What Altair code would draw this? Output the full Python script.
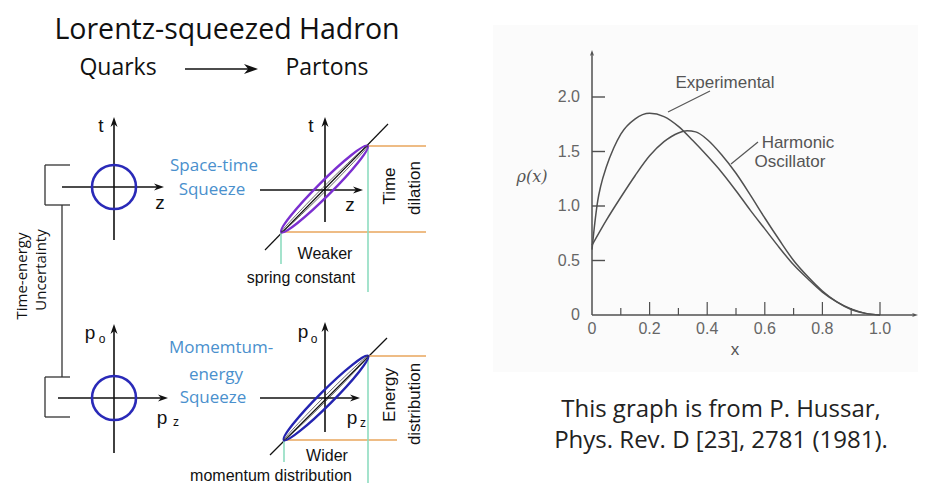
import altair as alt
import pandas as pd

# ---------------- data: right panel ----------------
exp_x = [0, 0.01, 0.02, 0.03, 0.05, 0.075, 0.1, 0.15, 0.2, 0.25, 0.3, 0.35, 0.4,
         0.45, 0.5, 0.55, 0.6, 0.65, 0.7, 0.75, 0.8, 0.85, 0.9, 0.95, 1.0]
exp_y = [0.60, 0.85, 1.05, 1.18, 1.36, 1.53, 1.66, 1.80, 1.85, 1.82, 1.73, 1.60, 1.46,
         1.31, 1.14, 0.96, 0.79, 0.62, 0.46, 0.33, 0.21, 0.12, 0.055, 0.015, 0.0]
ho_x = [0, 0.05, 0.1, 0.15, 0.2, 0.25, 0.3, 0.33, 0.36, 0.4, 0.45, 0.5, 0.55,
        0.6, 0.65, 0.7, 0.75, 0.8, 0.85, 0.9, 0.95, 1.0]
ho_y = [0.64, 0.87, 1.08, 1.28, 1.46, 1.59, 1.67, 1.69, 1.68, 1.61, 1.47, 1.30, 1.10,
        0.89, 0.69, 0.50, 0.35, 0.22, 0.12, 0.05, 0.015, 0.0]
xtick_major = [0.2, 0.4, 0.6, 0.8, 1.0]
xtick_minor = [0.1, 0.3, 0.5, 0.7, 0.9]
xtick_labels = ["0", "0.2", "0.4", "0.6", "0.8", "1.0"]
xtick_label_vals = [0, 0.2, 0.4, 0.6, 0.8, 1.0]
ytick_vals = [0.5, 1.0, 1.5, 2.0]
ytick_labels = ["0", "0.5", "1.0", "1.5", "2.0"]
ytick_label_vals = [0, 0.5, 1.0, 1.5, 2.0]

# ---------------- data: left diagram (page coordinates) ----------------
seg_x1 = [185, 62, 114, 58, 114, 260, 325, 260, 325,
          45, 45, 45, 62, 45, 45, 45,
          265, 270,
          368, 283, 368, 284,
          368, 281, 284, 368,
          710, 758]
seg_y1 = [69, 187, 240, 398, 453, 190, 222, 398, 432,
          165, 165, 205, 205, 377, 377, 417,
          250, 455,
          146, 232, 356, 440,
          146, 232, 440, 356,
          91, 142]
seg_x2 = [252, 160, 114, 164, 114, 359, 325, 356, 325,
          70, 45, 70, 62, 70, 45, 70,
          388, 387,
          426, 426, 426, 397,
          368, 281, 284, 368,
          668, 731]
seg_y2 = [69, 187, 121, 398, 328, 190, 121, 398, 326,
          165, 205, 205, 377, 377, 417, 417,
          124, 338,
          146, 232, 356, 440,
          292, 264, 462, 491,
          112, 164]
seg_style = (["axis"] * 9 + ["bracket"] * 7 + ["diag"] * 2 + ["orange"] * 4
             + ["green"] * 4 + ["leader"] * 2)

arrow_x = [251, 159, 114, 163, 114, 358, 325, 355, 325]
arrow_y = [69, 187, 122, 398, 329, 190, 122, 398, 327]
arrow_angle = [0, 0, 270, 0, 270, 0, 270, 0, 270]
arrow_size = [196, 100, 100, 100, 100, 100, 100, 100, 100]

circle_x = [114, 114]
circle_y = [187, 398]

ellipse_x = [324.5, 326]
ellipse_y = [189, 398]
ellipse_len = [122, 119]
ellipse_color = ["#7b2fd0", "#2424b0"]

STYLE = {
    "axis": ("#111111", 1.6),
    "bracket": ("#333333", 1.3),
    "diag": ("#111111", 1.2),
    "orange": ("#e9a65c", 1.6),
    "green": ("#8edcc0", 1.6),
    "leader": ("#555555", 1.2),
}

PX_X = alt.Scale(domain=[8, 918], range=[0, 910], nice=False, zero=False)
PX_Y = alt.Scale(domain=[8, 483], range=[0, 475], nice=False, zero=False)
PLOT_X = alt.Scale(domain=[0, 1], range=[584, 872], nice=False, zero=False)
PLOT_Y = alt.Scale(domain=[0, 2], range=[307, 89], nice=False, zero=False)


def ellipse_path(b):
    k = 0.5523
    kb = round(k * b, 4)
    return (f"M1,0 C1,{kb} {k},{b} 0,{b} C{-k},{b} -1,{kb} -1,0 "
            f"C-1,{-kb} {-k},{-b} 0,{-b} C{k},{-b} 1,{-kb} 1,0 Z")


ARROW = "M1,0 L-1,-0.7 L-0.4,0 L-1,0.7 Z"

layers = []

bg = pd.DataFrame({"x": [493], "x2": [918], "y": [25], "y2": [372]})
layers.append(alt.Chart(bg).mark_rect(fill="#fbfbfb").encode(
    x=alt.X("x:Q", scale=PX_X, axis=None), x2="x2:Q",
    y=alt.Y("y:Q", scale=PX_Y, axis=None), y2="y2:Q"))

segs = pd.DataFrame({"x": seg_x1, "y": seg_y1, "x2": seg_x2, "y2": seg_y2, "s": seg_style})
for s, (col, w) in STYLE.items():
    layers.append(alt.Chart(segs[segs.s == s]).mark_rule(color=col, strokeWidth=w).encode(
        x=alt.X("x:Q", scale=PX_X, axis=None), x2="x2:Q",
        y=alt.Y("y:Q", scale=PX_Y, axis=None), y2="y2:Q"))

arrows = pd.DataFrame({"x": arrow_x, "y": arrow_y, "a": arrow_angle, "s": arrow_size})
layers.append(alt.Chart(arrows).mark_point(shape=ARROW, filled=True, color="#111111", opacity=1).encode(
    x=alt.X("x:Q", scale=PX_X, axis=None), y=alt.Y("y:Q", scale=PX_Y, axis=None),
    angle=alt.Angle("a:Q", scale=None), size=alt.Size("s:Q", scale=None, legend=None)))

circ = pd.DataFrame({"x": circle_x, "y": circle_y})
layers.append(alt.Chart(circ).mark_point(shape="circle", size=1936, filled=False,
                                         color="#2a2ab8", strokeWidth=2.6, opacity=1).encode(
    x=alt.X("x:Q", scale=PX_X, axis=None), y=alt.Y("y:Q", scale=PX_Y, axis=None)))

ell = pd.DataFrame({"x": ellipse_x, "y": ellipse_y, "L": ellipse_len, "c": ellipse_color})
ell["s"] = ell["L"] ** 2
layers.append(alt.Chart(ell).mark_point(shape=ellipse_path(0.115), filled=False, angle=315,
                                        strokeWidth=2.4, opacity=1).encode(
    x=alt.X("x:Q", scale=PX_X, axis=None), y=alt.Y("y:Q", scale=PX_Y, axis=None),
    size=alt.Size("s:Q", scale=None, legend=None), color=alt.Color("c:N", scale=None)))
layers.append(alt.Chart(ell).mark_point(shape=ellipse_path(0.035), filled=False, angle=315,
                                        strokeWidth=0.7, color="#333333", opacity=1).encode(
    x=alt.X("x:Q", scale=PX_X, axis=None), y=alt.Y("y:Q", scale=PX_Y, axis=None),
    size=alt.Size("s:Q", scale=None, legend=None)))


def text_layer(labels, xs, ys, font, size, color, angle=0, baseline="middle", align="center",
               style="normal"):
    df = pd.DataFrame({"t": labels, "x": xs, "y": ys})
    return alt.Chart(df).mark_text(font=font, fontSize=size, color=color, angle=angle,
                                   baseline=baseline, align=align, fontStyle=style).encode(
        x=alt.X("x:Q", scale=PX_X, axis=None), y=alt.Y("y:Q", scale=PX_Y, axis=None),
        text="t:N")


layers.append(text_layer(["Lorentz-squeezed Hadron"], [227], [30], "Open Sans", 28.5, "#111111"))
layers.append(text_layer(["Quarks", "Partons"], [118, 327], [75, 75], "Open Sans", 23, "#111111",
                         baseline="alphabetic"))
layers.append(text_layer(["Space-time", "Squeeze", "Momemtum-", "energy", "Squeeze"],
                         [214, 212, 221, 216, 213], [166, 190, 348, 375, 398],
                         "Open Sans", 17, "#4a90cd"))
layers.append(text_layer(["Weaker", "spring constant", "Wider", "momentum distribution"],
                         [325, 301, 327, 271], [254, 278, 456, 476],
                         "Liberation Sans", 16, "#111111"))
layers.append(text_layer(["t", "z", "t", "z", "p", "p", "p", "p"],
                         [101, 160, 311, 350, 90, 303, 162, 352],
                         [126, 203, 126, 205, 333, 332, 418, 418],
                         "Liberation Sans", 19, "#111111"))
layers.append(text_layer(["o", "o", "z", "z"], [102, 314, 176, 363], [339, 339, 422, 423],
                         "Liberation Sans", 12, "#111111"))
layers.append(text_layer(["Time", "dilation", "Energy", "distribution"],
                         [390, 415, 390, 415], [186, 188, 395, 404],
                         "Liberation Sans", 17, "#111111", angle=270))
layers.append(text_layer(["Time-energy", "Uncertainty"], [22, 41], [276, 270],
                         "Open Sans", 15, "#111111", angle=270))
layers.append(text_layer(["This graph is from P. Hussar,", "Phys. Rev. D [23], 2781 (1981)."],
                         [721, 721], [410, 441], "Open Sans", 24, "#222222"))
layers.append(text_layer(["Experimental", "Harmonic", "Oscillator", "x"],
                         [725, 798, 790, 735], [83, 143, 162, 350],
                         "Liberation Sans", 17, "#555555"))
layers.append(text_layer(["\u03c1(x)"], [532], [177], "DejaVu Serif", 16, "#555555", style="italic"))

# ---------------- right panel plot ----------------
curves = pd.concat([
    pd.DataFrame({"x": exp_x, "y": exp_y, "series": "Experimental"}),
    pd.DataFrame({"x": ho_x, "y": ho_y, "series": "Harmonic Oscillator"}),
])
layers.append(alt.Chart(curves).mark_line(color="#505050", strokeWidth=1.5,
                                          interpolate="monotone").encode(
    x=alt.X("x:Q", scale=PLOT_X, axis=None), y=alt.Y("y:Q", scale=PLOT_Y, axis=None),
    detail="series:N"))

axdf = pd.DataFrame({"x": [0], "y": [0]})
layers.append(alt.Chart(axdf).mark_rule(color="#505050", strokeWidth=1.5).encode(
    x=alt.X("x:Q", scale=PLOT_X, axis=None), y=alt.Y("y:Q", scale=PLOT_Y, axis=None),
    y2=alt.value(45)))
layers.append(alt.Chart(axdf).mark_rule(color="#505050", strokeWidth=1.5).encode(
    x=alt.X("x:Q", scale=PLOT_X, axis=None), x2=alt.value(907),
    y=alt.Y("y:Q", scale=PLOT_Y, axis=None)))
layers.append(alt.Chart(axdf).mark_point(
    shape=ARROW, filled=True, color="#505050", size=36, angle=270, opacity=1).encode(
    x=alt.X("x:Q", scale=PLOT_X, axis=None), y=alt.value(45)))
layers.append(alt.Chart(axdf).mark_point(
    shape=ARROW, filled=True, color="#505050", size=36, opacity=1).encode(
    x=alt.value(907), y=alt.Y("y:Q", scale=PLOT_Y, axis=None)))

layers.append(alt.Chart(pd.DataFrame({"y": ytick_vals})).mark_rule(color="#505050", strokeWidth=1.4).encode(
    x=alt.value(584), x2=alt.value(597), y=alt.Y("y:Q", scale=PLOT_Y, axis=None)))
layers.append(alt.Chart(pd.DataFrame({"x": xtick_major})).mark_rule(color="#505050", strokeWidth=1.2).encode(
    x=alt.X("x:Q", scale=PLOT_X, axis=None), y=alt.value(307), y2=alt.value(294)))
layers.append(alt.Chart(pd.DataFrame({"x": xtick_minor})).mark_rule(color="#505050", strokeWidth=1.2).encode(
    x=alt.X("x:Q", scale=PLOT_X, axis=None), y=alt.value(307), y2=alt.value(300)))

layers.append(alt.Chart(pd.DataFrame({"x": xtick_label_vals, "t": xtick_labels})).mark_text(
    font="Liberation Sans", fontSize=16, color="#666666", baseline="middle").encode(
    x=alt.X("x:Q", scale=PLOT_X, axis=None), y=alt.value(321), text="t:N"))
layers.append(alt.Chart(pd.DataFrame({"y": ytick_label_vals, "t": ytick_labels})).mark_text(
    font="Liberation Sans", fontSize=16, color="#666666", baseline="middle", align="right").encode(
    x=alt.value(572), y=alt.Y("y:Q", scale=PLOT_Y, axis=None), text="t:N"))

chart = alt.layer(*layers).resolve_scale(x="independent", y="independent").properties(
    width=910, height=475, padding=0, autosize="none", background="white"
).configure_view(stroke=None)

chart.save("out.html", embed_options={"renderer": "svg", "actions": False})
